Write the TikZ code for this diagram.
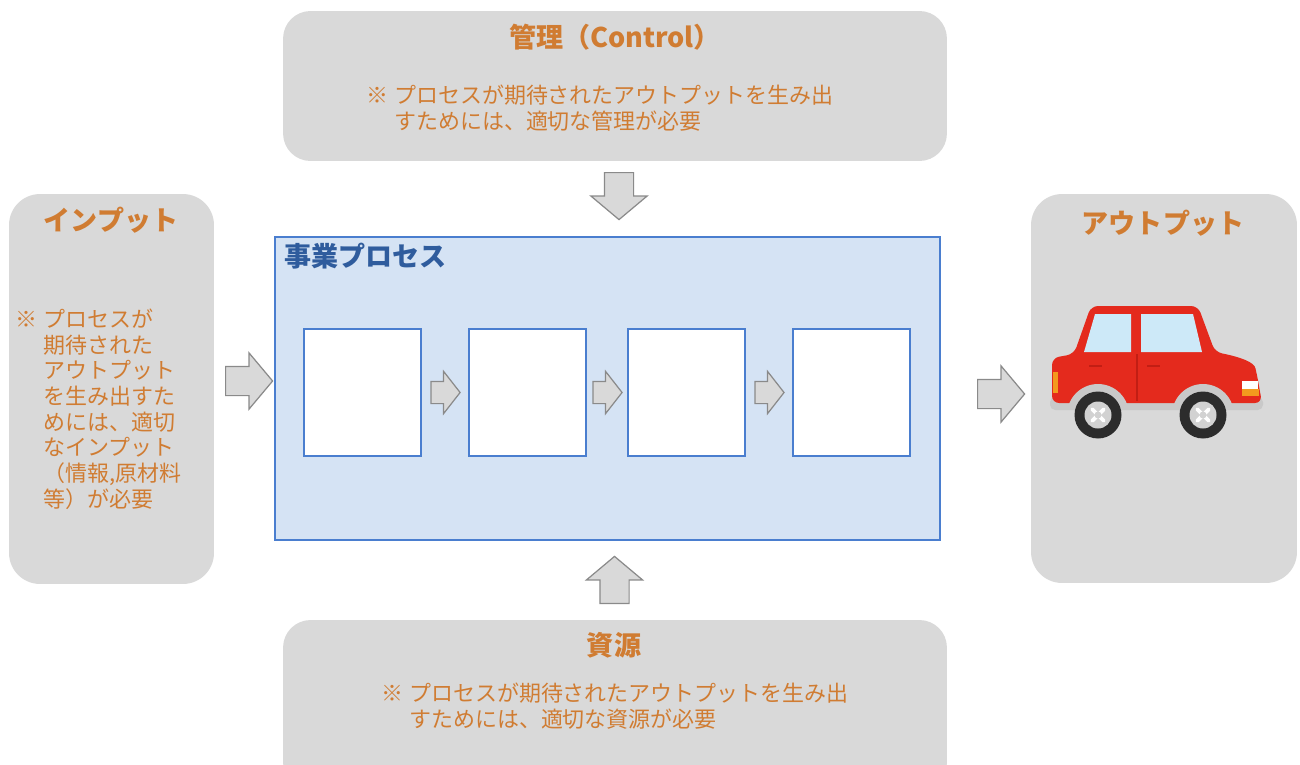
\documentclass[tikz,border=0pt]{standalone}
\usepackage{fontspec}
\setmainfont{Noto Sans CJK JP}
\usepackage{tikz}
\usetikzlibrary{positioning, calc, shapes.arrows}
\definecolor{panel}{HTML}{D9D9D9}
\definecolor{note}{HTML}{D07C32}
\definecolor{procfill}{HTML}{D5E3F4}
\definecolor{procline}{HTML}{4A7ECF}
\definecolor{proctext}{HTML}{2F5C9D}
\definecolor{arrowline}{HTML}{8A8A8A}
\definecolor{carred}{HTML}{E42A1D}
\definecolor{cardark}{HTML}{C21E14}
\definecolor{carglass}{HTML}{CDE9F8}
\definecolor{carskirt}{HTML}{C9C9C9}
\definecolor{tyre}{HTML}{2C2C2C}
\definecolor{rim}{HTML}{D2D2D2}
\definecolor{lamp}{HTML}{F39A1E}
\newcommand\notemark{\makebox[1.27em][l]{※}}
\newcommand\noteindent{\hspace*{1.27em}}
\tikzset{
  panel box/.style={
    fill=panel,
    rounded corners=0.55cm,
    inner sep=0pt
  },
  panel title/.style={
    font=\fontsize{15.4}{18}\selectfont\bfseries,
    text=note,
    inner sep=0pt
  },
  panel note/.style={
    font=\fontsize{12.5}{14.6}\selectfont,
    text=note,
    align=left,
    anchor=west,
    inner sep=0pt
  },
  step box/.style={
    draw=procline, line width=0.9pt, fill=white,
    minimum width=2.34cm, minimum height=2.54cm,
    inner sep=0pt, outer sep=0pt
  },
  big arrow/.style={
    single arrow, draw=arrowline, fill=panel, line width=0.7pt,
    inner xsep=0pt, inner ysep=0.28cm,
    single arrow head extend=0.27cm,
    single arrow tip angle=100,
    minimum height=0.94cm,
    anchor=tail
  },
  small arrow/.style={
    big arrow,
    inner ysep=0.21cm,
    single arrow head extend=0.2cm,
    single arrow tip angle=104,
    minimum height=0.58cm
  }
}

\begin{document}
\begin{tikzpicture}[x=0.02cm, y=-0.02cm]
  \clip (0,0) rectangle (1300,764);

  % surrounding panels
  \node[panel box, minimum width=13.28cm, minimum height=3cm] (ctrl) at (615,86) {};
  \node[panel box, minimum width=4.1cm, minimum height=7.8cm, rounded corners=0.62cm] (input) at (111.5,389) {};
  \node[panel box, minimum width=5.32cm, minimum height=7.78cm, rounded corners=0.62cm] (output) at (1164,388.5) {};
  \node[panel box, minimum width=13.28cm, minimum height=3.4cm] (res) at (615,705) {};

  \node[panel title] (ctrltitle) at (615,37) {管理（Control）};
  \node[panel note] (ctrlnote) at (366,108) {\notemark プロセスが期待されたアウトプットを生み出\\\noteindent すためには、適切な管理が必要};
  \node[panel title] (inputtitle) at (111,220) {インプット};
  \node[panel note] (inputnote) at (15,409) {\notemark プロセスが\\\noteindent 期待された\\\noteindent アウトプット\\\noteindent を生み出すた\\\noteindent めには、適切\\\noteindent なインプット\\\noteindent （情報,原材料\\\noteindent 等）が必要};
  \node[panel title] (outputtitle) at (1163,223) {アウトプット};
  \node[panel title] (restitle) at (614,645) {資源};
  \node[panel note] (resnote) at (381,706) {\notemark プロセスが期待されたアウトプットを生み出\\\noteindent すためには、適切な資源が必要};

  % business process with its steps
  \node[draw=procline, line width=0.9pt, fill=procfill, minimum width=13.3cm, minimum height=6.06cm] (proc) at (607.5,388.5) {};
  \node[anchor=west, inner sep=0pt, font=\fontsize{15.4}{18}\selectfont\bfseries, text=proctext] (proctitle) at (284,256) {事業プロセス};

  \node[step box] (step1) at (362.5,392.5) {};
  \node[step box, right=0.96cm of step1] (step2) {};
  \node[step box, right=0.84cm of step2] (step3) {};
  \node[step box, right=0.96cm of step3] (step4) {};

  \node[small arrow] (flow12) at ($(step1.east)!0.5!(step2.west)+(-14.5,0)$) {};
  \node[small arrow] (flow23) at ($(step2.east)!0.5!(step3.west)+(-14.5,0)$) {};
  \node[small arrow] (flow34) at ($(step3.east)!0.5!(step4.west)+(-14.5,0)$) {};

  % block arrows into and out of the process
  \node[big arrow] (inarrow) at (225,381) {};
  \node[big arrow] (outarrow) at (977,394) {};
  \node[big arrow, rotate=-90] (ctrlarrow) at (619,172) {};
  \node[big arrow, rotate=90] (resarrow) at (614.5,604) {};

  % car
  \fill[carskirt, rounded corners=3pt] (1050,397) rectangle (1263,410);
  \fill[carred, rounded corners=4pt] (1052,403) -- (1052,358) -- (1074,354)
    -- (1091,306) -- (1198,306) -- (1215,352)
    .. controls (1240,357) and (1254,362) .. (1257,375)
    -- (1262,403) -- cycle;
  \fill[carglass] (1084,352) -- (1095,314) -- (1131,314) -- (1131,352) -- cycle;
  \fill[carglass] (1141,314) -- (1193,314) -- (1202,352) -- (1141,352) -- cycle;
  \draw[cardark, line width=0.6pt] (1137,354) -- (1137,401);
  \draw[cardark, line width=0.8pt] (1089,366) -- (1102,366) (1147,366) -- (1160,366);
  \fill[lamp] (1053,372) rectangle (1058,393);
  \fill[white] (1242,381) rectangle (1258,389);
  \fill[lamp] (1242,389) rectangle (1259,396);
  \begin{scope}
    \clip (1040,300) rectangle (1270,408);
    \fill[carskirt] (1098,415) circle (0.62cm) (1203,415) circle (0.62cm);
  \end{scope}
  \foreach \wx in {1098,1203} {
    \fill[tyre] (\wx,415) circle (0.47cm);
    \fill[rim] (\wx,415) circle (0.27cm);
    \draw[white, line width=2.2pt, line cap=round] (\wx,415) ++(45:8) -- ++(225:16) (\wx,415) ++(135:8) -- ++(315:16);
    \fill[rim] (\wx,415) circle (0.07cm);
  }
\end{tikzpicture}
\end{document}
